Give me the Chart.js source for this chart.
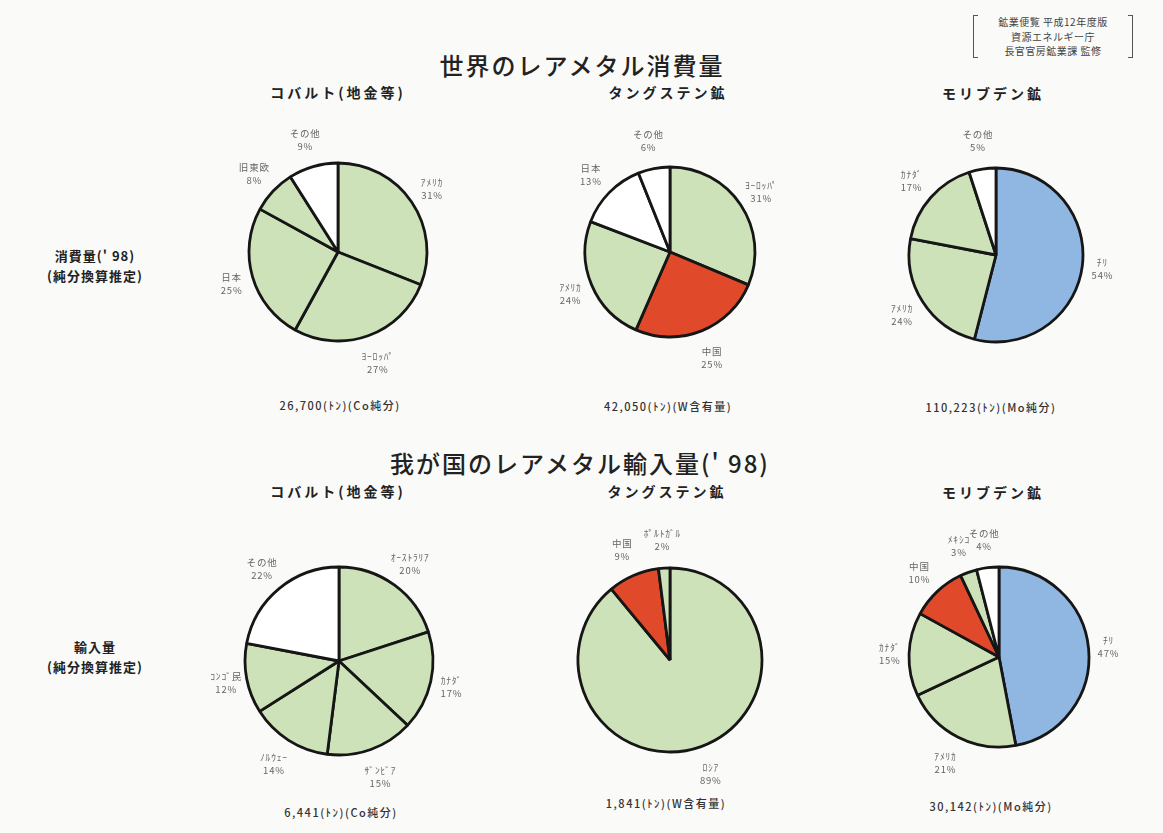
<!DOCTYPE html>
<html lang="ja">
<head>
<meta charset="UTF-8">
<title>世界のレアメタル消費量</title>
<script src="https://cdn.jsdelivr.net/npm/chart.js"></script>
<style>
  body { margin: 0; background: #fafaf8; font-family: "Noto Sans CJK JP", sans-serif; color: #222; }
  #page { position: relative; width: 1163px; height: 833px; overflow: hidden; }
  .t { position: absolute; transform: translate(-50%, -50%); white-space: nowrap; }
  .main { font-size: 24px; font-weight: 500; letter-spacing: 2px; }
  .sub { font-size: 14px; font-weight: 700; letter-spacing: 3px; }
  .side { font-size: 13px; font-weight: 700; text-align: center; line-height: 20px; letter-spacing: 1px; }
  .foot { font-size: 11px; font-weight: 500; color: #333; letter-spacing: 1.5px; }
  .src { position: absolute; left: 973px; top: 15px; width: 158px; height: 43px;
         border-left: 1px solid #555; border-right: 1px solid #555;
         font-size: 10px; line-height: 14.5px; text-align: center; color: #444; letter-spacing: 0.5px; }
  .src::before, .src::after { content: ""; position: absolute; top: 0; bottom: 0; left: 0; right: 0;
         border-top: 1px solid #555; border-bottom: 1px solid #555; }
  .src::before { right: auto; width: 4px; }
  .src::after { left: auto; width: 4px; }
  canvas { position: absolute; }
</style>
</head>
<body>
<div id="page">
  <div class="src">鉱業便覧 平成12年度版<br>資源エネルギー庁<br>長官官房鉱業課 監修</div>

  <div class="t main" style="left:582px;top:64px">世界のレアメタル消費量</div>
  <div class="t main" style="left:580px;top:462px">我が国のレアメタル輸入量(' 98)</div>

  <div class="t sub" style="left:338px;top:92px">コバルト(地金等)</div>
  <div class="t sub" style="left:668px;top:92px">タングステン鉱</div>
  <div class="t sub" style="left:993px;top:93px">モリブデン鉱</div>
  <div class="t sub" style="left:338px;top:491px">コバルト(地金等)</div>
  <div class="t sub" style="left:667px;top:491px">タングステン鉱</div>
  <div class="t sub" style="left:993px;top:492px">モリブデン鉱</div>

  <div class="t side" style="left:95px;top:266px">消費量(' 98)<br>(純分換算推定)</div>
  <div class="t side" style="left:95px;top:657px">輸入量<br>(純分換算推定)</div>

  <div class="t foot" style="left:340px;top:405px">26,700(ﾄﾝ)(Co純分)</div>
  <div class="t foot" style="left:668px;top:406px">42,050(ﾄﾝ)(W含有量)</div>
  <div class="t foot" style="left:991px;top:407px">110,223(ﾄﾝ)(Mo純分)</div>
  <div class="t foot" style="left:341px;top:812px">6,441(ﾄﾝ)(Co純分)</div>
  <div class="t foot" style="left:666px;top:803px">1,841(ﾄﾝ)(W含有量)</div>
  <div class="t foot" style="left:991px;top:806px">30,142(ﾄﾝ)(Mo純分)</div>
</div>

<script>
// 世界の消費量('98)
const worldCoLabels = ['ｱﾒﾘｶ', 'ﾖｰﾛｯﾊﾟ', '日本', '旧東欧', 'その他'];
const worldCoValues = [31, 27, 25, 8, 9];
const worldWLabels = ['ﾖｰﾛｯﾊﾟ', '中国', 'ｱﾒﾘｶ', '日本', 'その他'];
const worldWValues = [31, 25, 24, 13, 6];
const worldMoLabels = ['ﾁﾘ', 'ｱﾒﾘｶ', 'ｶﾅﾀﾞ', 'その他'];
const worldMoValues = [54, 24, 17, 5];

// 我が国の輸入量('98)
const japanCoLabels = ['ｵｰｽﾄﾗﾘｱ', 'ｶﾅﾀﾞ', 'ｻﾞﾝﾋﾞｱ', 'ﾉﾙｳｪｰ', 'ｺﾝｺﾞ民', 'その他'];
const japanCoValues = [20, 17, 15, 14, 12, 22];
const japanWLabels = ['ﾛｼｱ', '中国', 'ﾎﾟﾙﾄｶﾞﾙ'];
const japanWValues = [89, 9, 2];
const japanMoLabels = ['ﾁﾘ', 'ｱﾒﾘｶ', 'ｶﾅﾀﾞ', '中国', 'ﾒｷｼｺ', 'その他'];
const japanMoValues = [47, 21, 15, 10, 3, 4];

const G = '#cde2b8', R = '#e04a2a', B = '#90b6e2', W = '#ffffff';

// 国名と%をスライスの外側に書く
const sliceLabels = {
  id: 'sliceLabels',
  afterDatasetsDraw(chart) {
    const ctx = chart.ctx;
    const meta = chart.getDatasetMeta(0);
    const values = chart.data.datasets[0].data;
    ctx.save();
    ctx.font = '9.5px "Noto Sans CJK JP"';
    ctx.letterSpacing = '0.8px';
    ctx.fillStyle = '#666';
    ctx.textAlign = 'center';
    ctx.textBaseline = 'middle';
    meta.data.forEach((arc, i) => {
      const p = arc.getProps(['x', 'y', 'startAngle', 'endAngle', 'outerRadius'], true);
      const mid = (p.startAngle + p.endAngle) / 2;
      const d = p.outerRadius + 19 + 10 * Math.abs(Math.sin(mid));
      const lx = p.x + Math.cos(mid) * d;
      const ly = p.y + Math.sin(mid) * d;
      ctx.fillText(chart.data.labels[i], lx, ly - 6);
      ctx.fillText(values[i] + '%', lx, ly + 7);
    });
    ctx.restore();
  }
};

function makePie(cx, cy, radius, labels, values, colors) {
  const w = 300, h = 280;
  const canvas = document.createElement('canvas');
  canvas.width = w;
  canvas.height = h;
  canvas.style.left = (cx - w / 2) + 'px';
  canvas.style.top = (cy - h / 2) + 'px';
  document.getElementById('page').appendChild(canvas);
  new Chart(canvas.getContext('2d'), {
    type: 'pie',
    data: {
      labels: labels,
      datasets: [{
        data: values,
        backgroundColor: colors,
        borderColor: '#161616',
        borderWidth: 2.8,
      }],
    },
    options: {
      responsive: false,
      animation: false,
      radius: radius,
      plugins: { legend: { display: false }, tooltip: { enabled: false } },
    },
    plugins: [sliceLabels],
  });
}

makePie(338, 252, 89, worldCoLabels, worldCoValues, [G, G, G, G, W]);
makePie(670, 252, 85, worldWLabels, worldWValues, [G, R, G, W, W]);
makePie(996, 255, 87, worldMoLabels, worldMoValues, [B, G, G, W]);
makePie(339, 661, 94, japanCoLabels, japanCoValues, [G, G, G, G, G, W]);
makePie(670, 660, 92, japanWLabels, japanWValues, [G, R, G]);
makePie(999, 657, 90, japanMoLabels, japanMoValues, [B, G, G, R, G, W]);
</script>
</body>
</html>
